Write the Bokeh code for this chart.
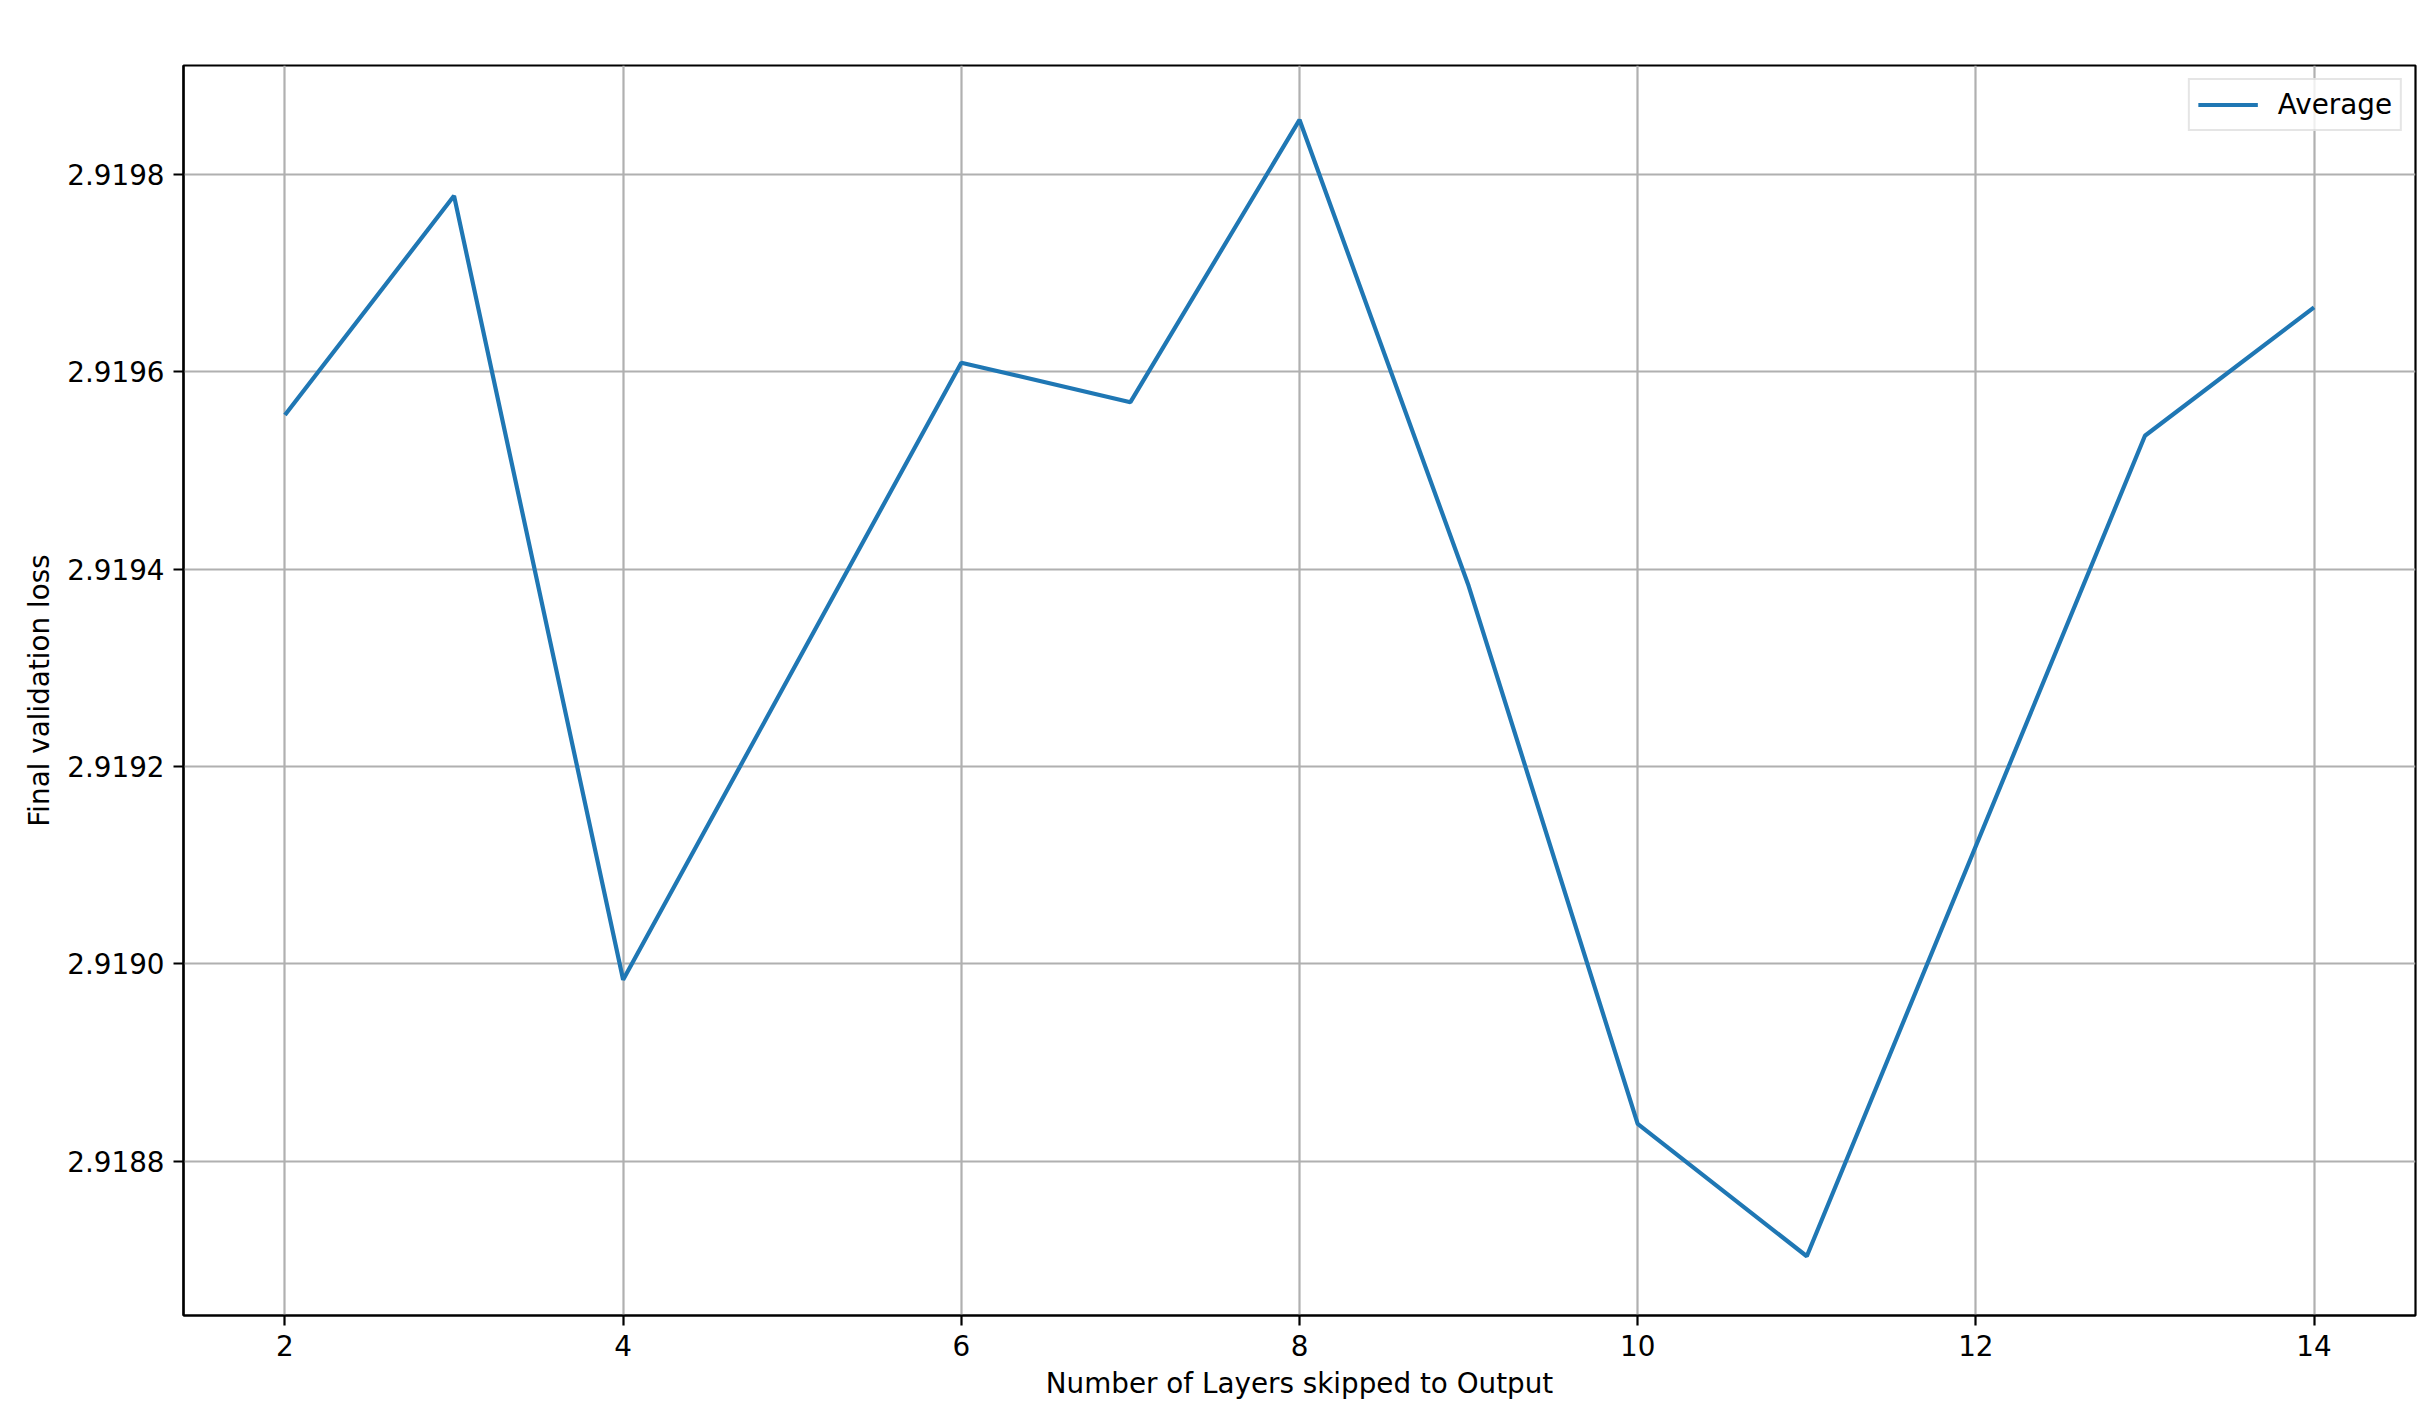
from bokeh.plotting import figure
from bokeh.models import Range1d, FixedTicker, PrintfTickFormatter, Legend, LegendItem
from bokeh.embed import file_html
from bokeh.resources import INLINE

# Data
layers = [2, 3, 4, 6, 7, 8, 9, 10, 11, 13, 14]
avg_loss = [2.919556, 2.919778, 2.918984, 2.919609, 2.919569, 2.919855,
            2.919383, 2.918838, 2.918704, 2.919535, 2.919665]
x_ticks = [2, 4, 6, 8, 10, 12, 14]
y_ticks = [2.9188, 2.9190, 2.9192, 2.9194, 2.9196, 2.9198]
series_name = "Average"
x_label = "Number of Layers skipped to Output"
y_label = "Final validation loss"

FONT = "DejaVu Sans"
FS = "27.8px"

p = figure(width=2426, height=1404,
           x_range=Range1d(1.4, 14.6), y_range=Range1d(2.918644, 2.91991),
           output_backend="svg", toolbar_location=None,
           min_border_left=183, min_border_right=11,
           min_border_top=65, min_border_bottom=89)

p.background_fill_color = "white"
p.border_fill_color = "white"
p.outline_line_color = "black"
p.outline_line_width = 2.2

r = p.line(layers, avg_loss, line_color="#1f77b4", line_width=4.2)

for ax in (p.xaxis[0], p.yaxis[0]):
    ax.axis_line_color = "black"
    ax.axis_line_width = 2.2
    ax.major_tick_line_color = "black"
    ax.major_tick_line_width = 2.2
    ax.major_tick_out = 10
    ax.major_tick_in = 0
    ax.minor_tick_line_color = None
    ax.major_label_text_font = FONT
    ax.major_label_text_font_size = FS
    ax.major_label_text_color = "black"
    ax.axis_label_text_font = FONT
    ax.axis_label_text_font_size = FS
    ax.axis_label_text_font_style = "normal"
    ax.axis_label_text_color = "black"
    ax.major_label_standoff = 9

p.xaxis[0].ticker = FixedTicker(ticks=x_ticks)
p.yaxis[0].ticker = FixedTicker(ticks=y_ticks)
p.yaxis[0].formatter = PrintfTickFormatter(format="%.4f")
p.xaxis[0].axis_label = x_label
p.yaxis[0].axis_label = y_label
p.xaxis[0].axis_label_standoff = 8
p.yaxis[0].axis_label_standoff = 8

p.xgrid.ticker = FixedTicker(ticks=x_ticks)
p.ygrid.ticker = FixedTicker(ticks=y_ticks)
for g in (p.xgrid[0], p.ygrid[0]):
    g.grid_line_color = "#b0b0b0"
    g.grid_line_width = 2.2

legend = Legend(items=[LegendItem(label=series_name, renderers=[r])],
                location="top_right")
legend.margin = 13
legend.padding = 8
legend.spacing = 0
legend.glyph_width = 60
legend.glyph_height = 33
legend.label_height = 33
legend.label_standoff = 20
legend.label_text_font = FONT
legend.label_text_font_size = FS
legend.label_text_color = "black"
legend.border_line_color = "#cccccc"
legend.border_line_width = 2.2
legend.background_fill_alpha = 0.8
p.add_layout(legend)

open("out.html", "w").write(file_html(p, INLINE))
